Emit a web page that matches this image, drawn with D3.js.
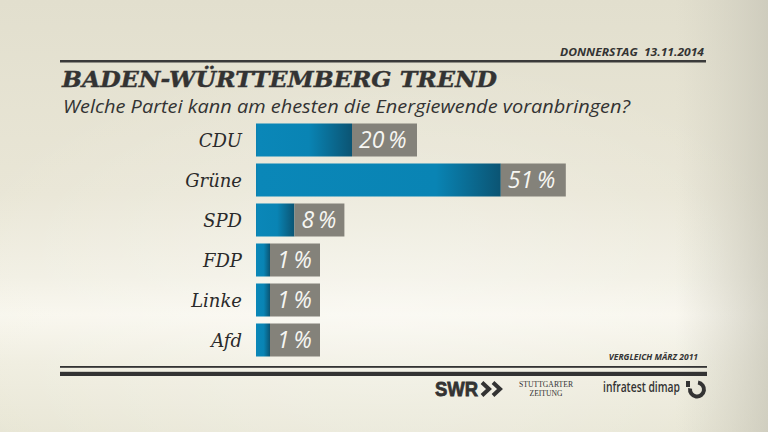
<!DOCTYPE html>
<html>
<head>
<meta charset="utf-8">
<script src="https://cdn.jsdelivr.net/npm/d3@7"></script>
<style>
  html, body { margin: 0; padding: 0; background: #e8e5d5; }
  svg { display: block; }
</style>
</head>
<body>
<div class="graph-div"></div>
<script>
var outerWidth = 768;
var outerHeight = 432;

// data
var parties = ["CDU", "Grüne", "SPD", "FDP", "Linke", "Afd"];
var values = [20, 51, 8, 1, 1, 1];

var titleText = "BADEN-WÜRTTEMBERG TREND";
var subtitleText = "Welche Partei kann am ehesten die Energiewende voranbringen?";
var dateText = "DONNERSTAG  13.11.2014";
var noteText = "VERGLEICH MÄRZ 2011";

var ink = "#333333";

var svg = d3.select(".graph-div").append("svg")
  .attr("width", outerWidth)
  .attr("height", outerHeight);

var defs = svg.append("defs");

// background
var bg = defs.append("linearGradient").attr("id", "bg")
  .attr("x1", 0).attr("y1", 0).attr("x2", 0).attr("y2", 1);
[[0, "#e2dfce"], [0.45, "#e9e6d6"], [0.64, "#f1efe3"], [0.73, "#f8f6ed"], [0.84, "#efeddf"], [1, "#e8e6d5"]]
  .forEach(function(s) { bg.append("stop").attr("offset", s[0]).attr("stop-color", s[1]); });

var glow = defs.append("radialGradient").attr("id", "glow")
  .attr("cx", 0.5).attr("cy", 0.72).attr("r", 0.6);
glow.append("stop").attr("offset", 0).attr("stop-color", "#ffffff").attr("stop-opacity", 0.35);
glow.append("stop").attr("offset", 1).attr("stop-color", "#ffffff").attr("stop-opacity", 0);

var edge = defs.append("linearGradient").attr("id", "edge")
  .attr("x1", 0).attr("y1", 0).attr("x2", 1).attr("y2", 0);
edge.append("stop").attr("offset", 0).attr("stop-color", "#cfcdbf").attr("stop-opacity", 0);
edge.append("stop").attr("offset", 0.88).attr("stop-color", "#cfcdbf").attr("stop-opacity", 0);
edge.append("stop").attr("offset", 1).attr("stop-color", "#c6c4b6").attr("stop-opacity", 0.7);

svg.append("rect").attr("width", outerWidth).attr("height", outerHeight).attr("fill", "url(#bg)");
svg.append("rect").attr("width", outerWidth).attr("height", outerHeight).attr("fill", "url(#glow)");
svg.append("rect").attr("width", outerWidth).attr("height", outerHeight).attr("fill", "url(#edge)");

// header
svg.append("text")
  .attr("x", 704).attr("y", 55.5)
  .attr("text-anchor", "end")
  .attr("font-family", "Open Sans").attr("font-style", "italic").attr("font-weight", 700)
  .attr("font-size", 11).attr("fill", ink)
  .attr("xml:space", "preserve")
  .attr("textLength", 144).attr("lengthAdjust", "spacingAndGlyphs")
  .text(dateText);

svg.append("rect").attr("x", 60).attr("y", 60).attr("width", 646).attr("height", 2.5).attr("fill", "#3a3a3a");

svg.append("text")
  .attr("x", 62).attr("y", 86.5)
  .attr("font-family", "DejaVu Serif").attr("font-style", "italic").attr("font-weight", 700)
  .attr("font-size", 22).attr("fill", ink)
  .attr("stroke", ink).attr("stroke-width", 0.4)
  .attr("textLength", 435).attr("lengthAdjust", "spacingAndGlyphs")
  .text(titleText);

svg.append("text")
  .attr("x", 63).attr("y", 112.5)
  .attr("font-family", "Open Sans").attr("font-style", "italic")
  .attr("font-size", 17.5).attr("fill", ink)
  .attr("textLength", 567).attr("lengthAdjust", "spacingAndGlyphs")
  .text(subtitleText);

// scales
var xScale = d3.scaleLinear().domain([0, 100]).range([256, 736]);
var yScale = d3.scaleBand().domain(parties).range([123.5, 356.5]).paddingInner(0.175);
var minBar = 14;

function barWidth(v) { return Math.max(xScale(v) - xScale(0), minBar); }
function boxWidth(v) { return 35 + 15 * String(v).length; }

var g = svg.append("g");

var rows = g.selectAll(".row")
  .data(parties.map(function(p, i) { return {party: p, value: values[i], i: i}; }))
  .enter().append("g")
  .attr("class", "row")
  .attr("transform", function(d) { return "translate(0," + yScale(d.party) + ")"; });

// per-bar gradient, dark at the tip
rows.each(function(d) {
  var w = barWidth(d.value);
  var fade = Math.min(65, w * 0.45);
  var grad = defs.append("linearGradient")
    .attr("id", "bar" + d.i)
    .attr("gradientUnits", "userSpaceOnUse")
    .attr("x1", xScale(0)).attr("x2", xScale(0) + w)
    .attr("y1", 0).attr("y2", 0);
  grad.append("stop").attr("offset", 0).attr("stop-color", "#0a80b0");
  grad.append("stop").attr("offset", Math.min(0.04, 2 / w)).attr("stop-color", "#0a87b8");
  grad.append("stop").attr("offset", (w - fade) / w).attr("stop-color", "#0984b4");
  grad.append("stop").attr("offset", 1).attr("stop-color", "#0b5473");
});

rows.append("rect")
  .attr("x", xScale(0))
  .attr("y", 0)
  .attr("width", function(d) { return barWidth(d.value); })
  .attr("height", yScale.bandwidth())
  .attr("fill", function(d) { return "url(#bar" + d.i + ")"; });

rows.append("rect")
  .attr("x", function(d) { return xScale(0) + barWidth(d.value); })
  .attr("y", 0)
  .attr("width", function(d) { return boxWidth(d.value); })
  .attr("height", yScale.bandwidth())
  .attr("fill", "#84827a");

rows.append("text")
  .attr("x", function(d) { return xScale(0) + barWidth(d.value) + 7; })
  .attr("y", yScale.bandwidth() / 2 + 8)
  .attr("font-family", "Open Sans").attr("font-style", "italic")
  .attr("font-size", 23).attr("fill", "#f6f6f2")
  .attr("xml:space", "preserve")
  .text(function(d) { return d.value + "\u2009%"; });

rows.append("text")
  .attr("x", 242)
  .attr("y", yScale.bandwidth() / 2 + 6.5)
  .attr("text-anchor", "end")
  .attr("font-family", "DejaVu Serif").attr("font-style", "italic")
  .attr("font-size", 18).attr("fill", "#2a2a2a")
  .text(function(d) { return d.party; });

// footer
svg.append("text")
  .attr("x", 698).attr("y", 360)
  .attr("text-anchor", "end")
  .attr("font-family", "Open Sans").attr("font-style", "italic").attr("font-weight", 700)
  .attr("font-size", 8.5).attr("fill", ink)
  .text(noteText);

svg.append("rect").attr("x", 60).attr("y", 366).attr("width", 647).attr("height", 1.8).attr("fill", "#333");
svg.append("rect").attr("x", 60).attr("y", 371.8).attr("width", 647).attr("height", 4.2).attr("fill", "#333");

// logos
var logos = svg.append("g").attr("fill", "#333");
logos.append("text")
  .attr("x", 435).attr("y", 396)
  .attr("font-family", "Liberation Sans").attr("font-weight", 700)
  .attr("font-size", 20.5)
  .attr("stroke", "#333").attr("stroke-width", 0.8)
  .attr("textLength", 43).attr("lengthAdjust", "spacingAndGlyphs")
  .text("SWR");
logos.append("path")
  .attr("d", "M482,382.5 L489,389 L482,395.5 M493,382.5 L500,389 L493,395.5")
  .attr("fill", "none").attr("stroke", "#333").attr("stroke-width", 4);
logos.append("text")
  .attr("x", 546).attr("y", 387)
  .attr("text-anchor", "middle")
  .attr("font-family", "Liberation Serif")
  .attr("font-size", 7.4)
  .attr("textLength", 54).attr("lengthAdjust", "spacingAndGlyphs")
  .text("STUTTGARTER");
logos.append("text")
  .attr("x", 546).attr("y", 395.5)
  .attr("text-anchor", "middle")
  .attr("font-family", "Liberation Serif")
  .attr("font-size", 7.4)
  .attr("textLength", 33).attr("lengthAdjust", "spacingAndGlyphs")
  .text("ZEITUNG");
logos.append("text")
  .attr("x", 603).attr("y", 392)
  .attr("font-family", "Open Sans").attr("font-weight", 600)
  .attr("font-size", 13.5)
  .attr("textLength", 77).attr("lengthAdjust", "spacingAndGlyphs")
  .text("infratest dimap");
logos.append("rect").attr("x", 686).attr("y", 381).attr("width", 4).attr("height", 6);
logos.append("path")
  .attr("d", d3.arc()({innerRadius: 5, outerRadius: 9, startAngle: 0.15, endAngle: Math.PI * 1.55}))
  .attr("transform", "translate(697,389.5)");
</script>
</body>
</html>
